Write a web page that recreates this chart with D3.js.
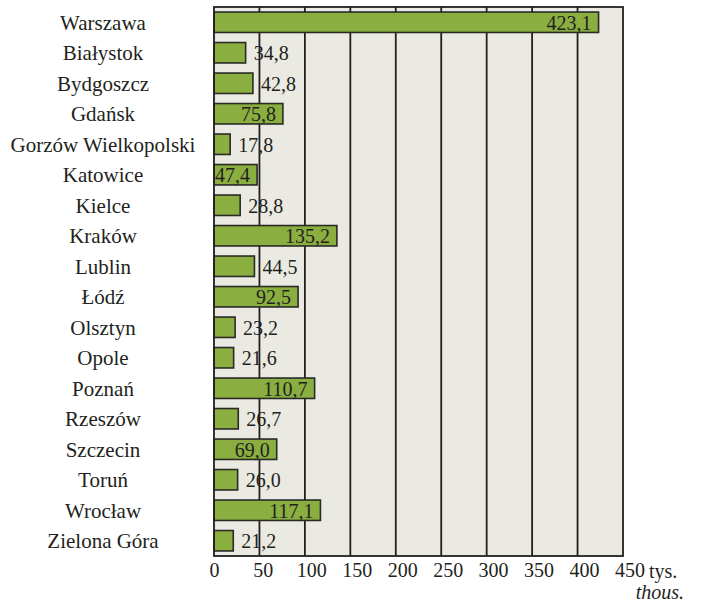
<!DOCTYPE html>
<html>
<head>
<meta charset="utf-8">
<script src="https://cdn.jsdelivr.net/npm/d3@7"></script>
<style>
  html, body { margin: 0; padding: 0; background: #ffffff; }
  svg { display: block; }
</style>
</head>
<body>
<script>
// Population by voivodeship capital, thousands
const cities = ["Warszawa", "Białystok", "Bydgoszcz", "Gdańsk", "Gorzów Wielkopolski",
  "Katowice", "Kielce", "Kraków", "Lublin", "Łódź", "Olsztyn", "Opole", "Poznań",
  "Rzeszów", "Szczecin", "Toruń", "Wrocław", "Zielona Góra"];
const values = [423.1, 34.8, 42.8, 75.8, 17.8, 47.4, 28.8, 135.2, 44.5, 92.5,
  23.2, 21.6, 110.7, 26.7, 69.0, 26.0, 117.1, 21.2];
const ticks = [0, 50, 100, 150, 200, 250, 300, 350, 400, 450];
const unitPl = "tys.";
const unitEn = "thous.";

const W = 705, H = 604;
const m = { left: 214, right: 82, top: 7, bottom: 48 };
const serif = "'Liberation Serif'";
const ink = "#231f20";

const svg = d3.select("body").append("svg")
  .attr("width", W).attr("height", H);

const x = d3.scaleLinear().domain([0, 450]).range([m.left, W - m.right]);
const y = d3.scaleBand().domain(cities).range([m.top, H - m.bottom])
  .paddingInner(0.33).paddingOuter(0.165);

const fmt = v => d3.format(".1f")(v).replace(".", ",");

// plot background
svg.append("rect")
  .attr("x", x(0)).attr("y", m.top)
  .attr("width", x(450) - x(0)).attr("height", H - m.bottom - m.top)
  .attr("fill", "#eaeae2");

// vertical grid
svg.append("g").selectAll("line").data(ticks.slice(1, -1)).join("line")
  .attr("x1", d => x(d)).attr("x2", d => x(d))
  .attr("y1", m.top).attr("y2", H - m.bottom)
  .attr("stroke", ink).attr("stroke-width", 1.8);

// bars
const rows = cities.map((c, i) => ({ city: c, value: values[i] }));
svg.append("g").selectAll("rect").data(rows).join("rect")
  .attr("x", x(0))
  .attr("y", d => y(d.city))
  .attr("width", d => x(d.value) - x(0))
  .attr("height", y.bandwidth())
  .attr("fill", "#8aae40")
  .attr("stroke", "#2a2a26").attr("stroke-width", 1.6);

// frame
svg.append("rect")
  .attr("x", x(0)).attr("y", m.top)
  .attr("width", x(450) - x(0)).attr("height", H - m.bottom - m.top)
  .attr("fill", "none").attr("stroke", ink).attr("stroke-width", 1.8);

// value labels: inside the bar when it is long enough, otherwise after it
svg.append("g").selectAll("text").data(rows).join("text")
  .attr("x", d => d.value > 45 ? x(d.value) - 7 : x(d.value) + 8)
  .attr("y", d => y(d.city) + y.bandwidth() / 2 + 7.5)
  .attr("text-anchor", d => d.value > 45 ? "end" : "start")
  .style("font-family", serif).style("font-size", "20px").style("fill", ink)
  .text(d => fmt(d.value));

// category labels
svg.append("g").selectAll("text").data(cities).join("text")
  .attr("x", 103)
  .attr("y", d => y(d) + y.bandwidth() / 2 + 7.5)
  .attr("text-anchor", "middle")
  .style("font-family", serif).style("font-size", "21px").style("fill", ink)
  .text(d => d);

// x axis tick labels (set slightly right of their gridline as they widen)
const axis = d3.axisBottom(x).tickValues(ticks).tickSize(0).tickPadding(7)
  .tickFormat(d3.format("d"));
const gx = svg.append("g").attr("transform", `translate(0,${H - m.bottom})`).call(axis);
gx.select(".domain").remove();
gx.selectAll("text")
  .attr("dx", d => (String(d).length - 1) * 3.2)
  .style("font-family", serif).style("font-size", "20px").style("fill", ink);

// unit labels
svg.append("text").attr("x", 649).attr("y", 578)
  .attr("text-anchor", "start")
  .style("font-family", serif).style("font-size", "20px").style("fill", ink)
  .text(unitPl);
svg.append("text").attr("x", 684).attr("y", 599)
  .attr("text-anchor", "end")
  .style("font-family", serif).style("font-size", "20px").style("font-style", "italic").style("fill", ink)
  .text(unitEn);
</script>
</body>
</html>
